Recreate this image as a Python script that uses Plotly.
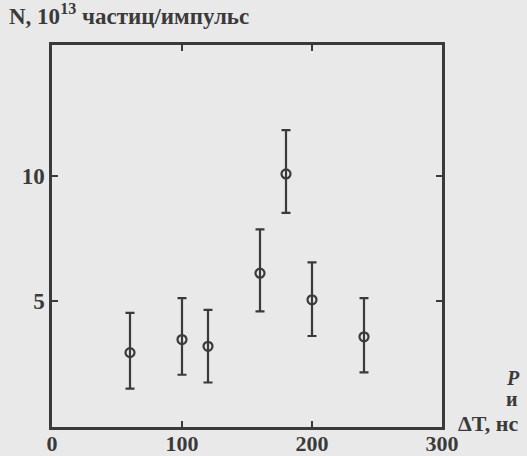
import plotly.graph_objects as go

delta_t = [60, 100, 120, 160, 180, 200, 240]
n_vals = [2.96, 3.48, 3.21, 6.12, 10.07, 5.06, 3.59]
err_plus = [1.58, 1.65, 1.45, 1.74, 1.74, 1.49, 1.54]
err_minus = [1.43, 1.40, 1.44, 1.52, 1.55, 1.44, 1.42]

x_ticks = [0, 100, 200, 300]
y_ticks = [5, 10]

ink = "#3a3a3a"
paper = "#e9e9e9"
font_family = "Liberation Serif, Times New Roman, serif"

PW = 527 - 52 - 85
PH = 456 - 45 - 29

fig = go.Figure()
fig.add_trace(go.Scatter(
    x=delta_t, y=n_vals, mode="markers",
    marker=dict(symbol="circle-open", size=9, color=ink, line=dict(width=2.2, color=ink)),
    error_y=dict(type="data", symmetric=False, array=err_plus, arrayminus=err_minus,
                 color=ink, thickness=2.2, width=4.5),
    showlegend=False,
))

fig.update_xaxes(
    range=[0, 300], tickvals=x_ticks, ticktext=[str(v) for v in x_ticks],
    showline=True, linecolor=ink, linewidth=2.5, mirror="ticks",
    ticks="inside", ticklen=6, tickwidth=2, tickcolor=ink,
    showgrid=False, zeroline=False, automargin=False, ticklabelstandoff=-5,
    tickfont=dict(family=font_family, size=22, color=ink, weight="bold"),
)
fig.update_yaxes(
    range=[0, 15.2], tickvals=y_ticks, ticktext=[str(v) for v in y_ticks],
    showline=True, linecolor=ink, linewidth=2.5, mirror="ticks",
    ticks="inside", ticklen=6, tickwidth=2, tickcolor=ink,
    showgrid=False, zeroline=False, automargin=False,
    tickfont=dict(family=font_family, size=23, color=ink, weight="bold"),
)

fig.update_layout(
    width=527, height=456,
    margin=dict(l=52, r=85, t=45, b=29),
    paper_bgcolor=paper, plot_bgcolor=paper,
    annotations=[
        dict(text="N, 10<sup>13</sup> частиц/импульс", xref="paper", yref="paper",
             x=-45/PW, y=1 + 14/PH, xanchor="left", yanchor="bottom", showarrow=False,
             font=dict(family=font_family, size=23, color=ink, weight="bold")),
        dict(text="ΔT, нс", xref="paper", yref="paper",
             x=1 + 14/PW, y=4/PH, xanchor="left", yanchor="middle", showarrow=False,
             font=dict(family=font_family, size=22, color=ink, weight="bold")),
        dict(text="<i>Р</i>", xref="paper", yref="paper",
             x=1 + 62/PW, y=(427 - 378) / PH, xanchor="left", yanchor="middle", showarrow=False,
             font=dict(family=font_family, size=20, color=ink, weight="bold")),
        dict(text="и", xref="paper", yref="paper",
             x=1 + 62/PW, y=(427 - 399) / PH, xanchor="left", yanchor="middle", showarrow=False,
             font=dict(family=font_family, size=20, color=ink, weight="bold")),
    ],
)

fig.write_html("out.html", config={"displayModeBar": False},
               post_script="document.body.style.margin='0';")
